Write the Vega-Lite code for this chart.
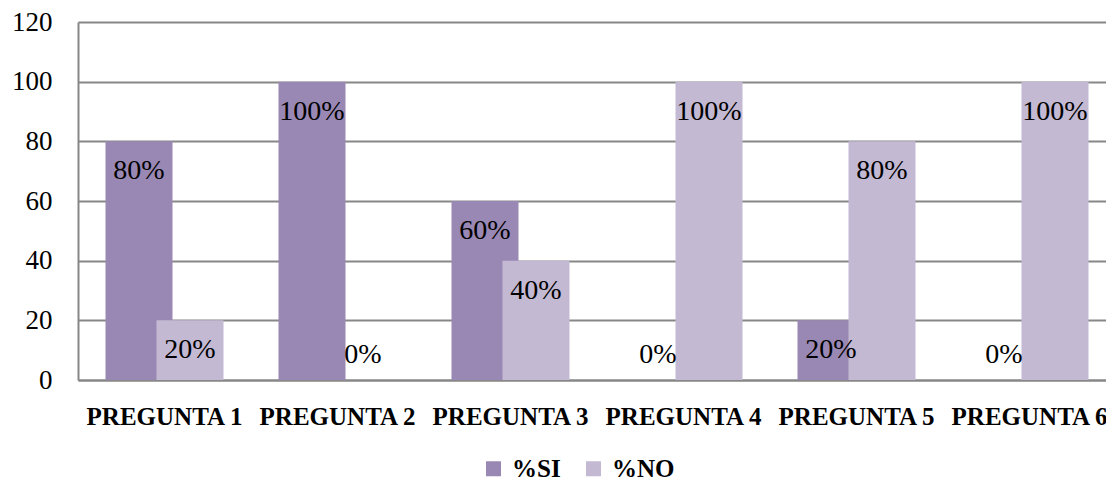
{
  "$schema": "https://vega.github.io/schema/vega-lite/v6.json",
  "width": 1038,
  "height": 358,
  "autosize": {"type": "none"},
  "padding": {"left": 78, "top": 22, "right": 0, "bottom": 101},
  "background": "white",
  "config": {"view": {"stroke": null}, "font": "Liberation Serif"},
  "data": {"values": [
    {"pregunta": "PREGUNTA 1", "serie": "%SI", "v": 80},
    {"pregunta": "PREGUNTA 2", "serie": "%SI", "v": 100},
    {"pregunta": "PREGUNTA 3", "serie": "%SI", "v": 60},
    {"pregunta": "PREGUNTA 4", "serie": "%SI", "v": 0},
    {"pregunta": "PREGUNTA 5", "serie": "%SI", "v": 20},
    {"pregunta": "PREGUNTA 6", "serie": "%SI", "v": 0},
    {"pregunta": "PREGUNTA 1", "serie": "%NO", "v": 20},
    {"pregunta": "PREGUNTA 2", "serie": "%NO", "v": 0},
    {"pregunta": "PREGUNTA 3", "serie": "%NO", "v": 40},
    {"pregunta": "PREGUNTA 4", "serie": "%NO", "v": 100},
    {"pregunta": "PREGUNTA 5", "serie": "%NO", "v": 80},
    {"pregunta": "PREGUNTA 6", "serie": "%NO", "v": 100}
  ]},
  "transform": [{"calculate": "datum.v + '%'", "as": "label"}],
  "encoding": {
    "x": {
      "field": "pregunta", "type": "nominal", "sort": null,
      "scale": {"paddingInner": 0, "paddingOuter": 0},
      "axis": {"title": null, "labelAngle": 0, "labelFontSize": 25, "labelFontWeight": "bold", "labelColor": "black", "labelPadding": 24, "ticks": false, "grid": false, "domainColor": "#878787", "domainWidth": 2}
    },
    "xOffset": {
      "field": "serie", "type": "nominal", "sort": ["%SI", "%NO"],
      "scale": {"paddingInner": 0, "paddingOuter": 0.696}
    },
    "y": {
      "field": "v", "type": "quantitative",
      "scale": {"domain": [0, 120]},
      "axis": {"title": null, "values": [0, 20, 40, 60, 80, 100, 120], "labelFontSize": 27, "labelColor": "black", "labelPadding": 26, "ticks": false, "grid": true, "gridColor": "#878787", "gridWidth": 2, "domainColor": "#878787", "domainWidth": 2}
    }
  },
  "layer": [
    {
      "mark": {"type": "bar", "width": 67},
      "encoding": {
        "color": {
          "field": "serie", "type": "nominal", "sort": ["%SI", "%NO"],
          "scale": {"domain": ["%SI", "%NO"], "range": ["#9A88B4", "#C3B9D3"]},
          "legend": {"orient": "none", "legendX": 403, "legendY": 434, "direction": "horizontal", "title": null, "symbolType": "square", "symbolSize": 225, "symbolStrokeWidth": 0, "symbolOpacity": 1, "labelFontSize": 25, "labelFontWeight": "bold", "labelColor": "black", "labelOffset": 6, "columnPadding": 20}
        }
      }
    },
    {
      "transform": [{"filter": "datum.v > 0"}],
      "mark": {"type": "text", "dy": 30, "fontSize": 28, "baseline": "middle", "color": "black"},
      "encoding": {"text": {"field": "label"}}
    },
    {
      "transform": [{"filter": "datum.v == 0"}],
      "mark": {"type": "text", "dy": -25, "fontSize": 28, "baseline": "middle", "color": "black"},
      "encoding": {"text": {"field": "label"}}
    }
  ]
}
